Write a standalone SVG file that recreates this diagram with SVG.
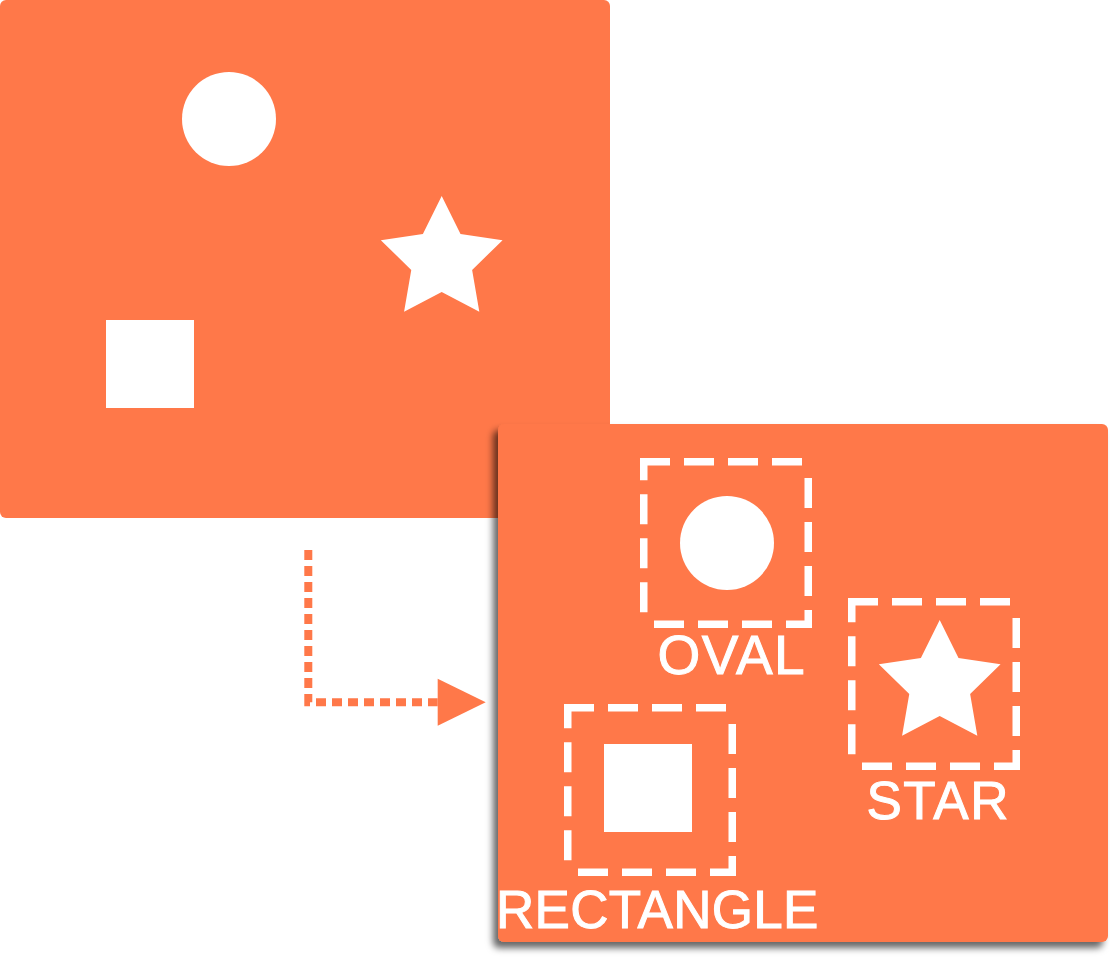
<svg xmlns="http://www.w3.org/2000/svg" width="1110" height="958" viewBox="0 0 1110 958">
  <style>
    .panel { fill: #FF7849; }
    .shape { fill: #FFFFFF; }
    .dash { fill: none; stroke: #FFFFFF; stroke-width: 7.5; stroke-dasharray: 30 14; stroke-linecap: butt; }
    .label { fill: #FFFFFF; stroke: #FFFFFF; stroke-width: 1; font-family: "Liberation Sans", Arial, sans-serif; font-size: 53px; }
    .conn { fill: none; stroke: #FF7849; stroke-width: 8; stroke-dasharray: 10 6; }
  </style>
  <defs>
    <filter id="shadow" x="-10%" y="-10%" width="120%" height="120%">
      <feGaussianBlur in="SourceAlpha" stdDeviation="3.5"/>
      <feOffset dx="-5" dy="6" result="b"/>
      <feFlood flood-color="#000000" flood-opacity="0.6"/>
      <feComposite in2="b" operator="in"/>
      <feMerge>
        <feMergeNode/>
        <feMergeNode in="SourceGraphic"/>
      </feMerge>
    </filter>
    <path id="star" d="M0,-64 L18.81,-25.89 L60.87,-19.78 L30.43,9.89 L37.62,51.78 L0,32 L-37.62,51.78 L-30.43,9.89 L-60.87,-19.78 L-18.81,-25.89 Z"/>
    <marker id="arrow" markerUnits="userSpaceOnUse" markerWidth="48" markerHeight="47" refX="0" refY="23.5" orient="auto" overflow="visible">
      <path d="M0,0 L48,23.5 L0,47 Z" fill="#FF7849"/>
    </marker>
  </defs>

  <g id="panel-before">
    <rect class="panel" x="0" y="0" width="610" height="518" rx="6" ry="6"/>
    <circle class="shape" cx="229" cy="119" r="47"/>
    <use href="#star" class="shape" transform="translate(441.7,260)"/>
    <rect class="shape" x="106" y="320" width="88" height="88"/>
  </g>

  <g id="connectors">
    <path class="conn" d="M308.3,550 V702.3 H437.7" marker-end="url(#arrow)"/>
  </g>

  <g id="panel-after">
    <rect class="panel" x="498" y="424" width="610" height="518" rx="6" ry="6" filter="url(#shadow)"/>
    <g id="oval">
      <circle class="shape" cx="727" cy="543" r="47"/>
      <path class="dash" d="M640,461.75 H802 M808.25,478 V628 M654,624.25 H812 M643.75,612.25 V458"/>
      <text class="label" x="657.5" y="674" style="font-size:55px" letter-spacing="1.5">OVAL</text>
    </g>
    <g id="star-node">
      <use href="#star" class="shape" transform="translate(939.7,684)"/>
      <path class="dash" d="M848,601.75 H1010 M1016.25,618 V770 M862,766.25 H1020 M851.75,754.25 V598"/>
      <text class="label" x="866.5" y="819" letter-spacing="1.5">STAR</text>
    </g>
    <g id="rectangle">
      <rect class="shape" x="604" y="744" width="88" height="88"/>
      <path class="dash" d="M564,707.75 H726 M732.25,724 V876 M578,872.25 H736 M567.75,860.25 V704"/>
      <text class="label" x="496" y="928" letter-spacing="0.3">RECTANGLE</text>
    </g>
  </g>
</svg>
